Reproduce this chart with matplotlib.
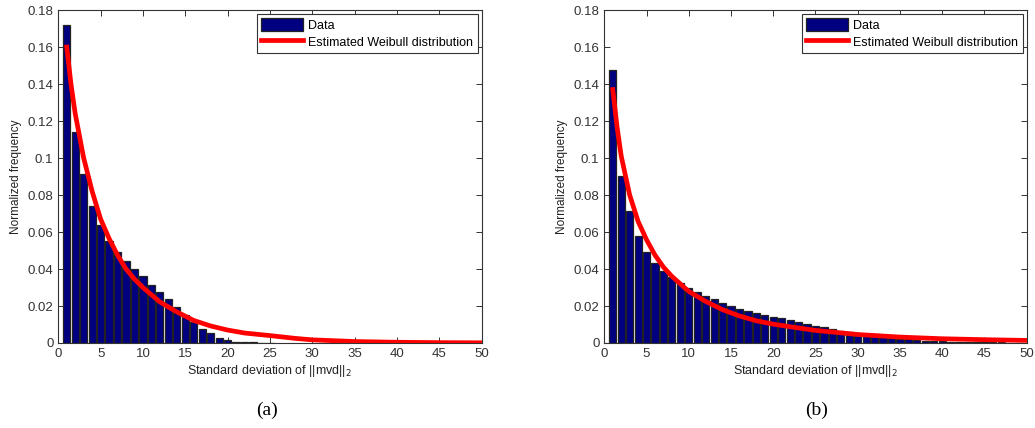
import matplotlib
matplotlib.use("Agg")
import matplotlib.pyplot as plt

plt.rcParams["font.family"] = ["Liberation Sans", "DejaVu Sans"]

# ---------------------------------------------------------------------------
# Data
# ---------------------------------------------------------------------------
bins_a = list(range(1, 26))
freq_a = [0.1719, 0.1143, 0.0913, 0.0743, 0.0637, 0.0549, 0.0490, 0.0441,
          0.0401, 0.0360, 0.0315, 0.0277, 0.0236, 0.0196, 0.0153, 0.0112,
          0.0077, 0.0052, 0.0029, 0.0014, 0.0006, 0.0004, 0.0003, 0.0002,
          0.0001]

fit_x_a = [1, 1.5, 2, 3, 4, 5, 6, 7, 8, 9, 10, 12, 14, 16, 18, 20, 22, 25,
           28, 30, 35, 40, 45, 50]
fit_y_a = [0.160, 0.140, 0.124, 0.100, 0.082, 0.067, 0.0565, 0.0475, 0.040,
           0.0345, 0.0300, 0.0222, 0.0168, 0.0122, 0.0092, 0.0070, 0.0054,
           0.0040, 0.0025, 0.0017, 0.0008, 0.0004, 0.0002, 0.0001]

bins_b = list(range(1, 50))
freq_b = [0.1476, 0.0905, 0.0716, 0.0580, 0.0491, 0.0432, 0.0389, 0.0355,
          0.0322, 0.0295, 0.0274, 0.0254, 0.0236, 0.0216, 0.0200, 0.0185,
          0.0175, 0.0160, 0.0149, 0.0138, 0.0133, 0.0122, 0.0112, 0.0101,
          0.0090, 0.0085, 0.0074, 0.0065, 0.0058, 0.0047, 0.0041, 0.0036,
          0.0032, 0.0027, 0.0023, 0.0020, 0.0016, 0.0013, 0.0011, 0.0009,
          0.0008, 0.0007, 0.0007, 0.0006, 0.0005, 0.0004, 0.0003, 0.0002,
          0.0002]

fit_x_b = [1, 1.5, 2, 3, 4, 5, 6, 7, 8, 10, 12, 14, 16, 18, 20, 22, 25, 30,
           35, 40, 45, 50]
fit_y_b = [0.137, 0.117, 0.101, 0.080, 0.0657, 0.0558, 0.0475, 0.041, 0.036,
           0.0279, 0.0225, 0.0180, 0.0146, 0.0120, 0.0102, 0.0088, 0.0068,
           0.0046, 0.0032, 0.0023, 0.0018, 0.0014]

panel_labels = ["(a)", "(b)"]
yticks = [0, 0.02, 0.04, 0.06, 0.08, 0.1, 0.12, 0.14, 0.16, 0.18]
ytick_labels = ["0", "0.02", "0.04", "0.06", "0.08", "0.1", "0.12", "0.14",
                "0.16", "0.18"]
xticks = list(range(0, 51, 5))


def draw_panel(ax, bins, freq, fit_x, fit_y):
    bars = ax.bar(bins, freq, width=0.85, color="#000080",
                  edgecolor="#222222", linewidth=0.9, zorder=2)
    line, = ax.plot(fit_x, fit_y, color="red", linewidth=3.4, zorder=3)
    ax.set_xlim(0, 50)
    ax.set_ylim(0, 0.18)
    ax.set_xticks(xticks)
    ax.set_yticks(yticks)
    ax.set_yticklabels(ytick_labels)
    ax.tick_params(direction="in", top=True, right=True, labelsize=9.5,
                   colors="#333333", length=4, width=0.7)
    for sp in ax.spines.values():
        sp.set_color("#333333")
        sp.set_linewidth(0.8)
    ax.set_xlabel(r"Standard deviation of ||mvd||$_2$", fontsize=9,
                  labelpad=2, color="#222222")
    ax.set_ylabel("Normalized frequency", fontsize=8.5, labelpad=4,
                  color="#222222")
    leg = ax.legend([bars, line], ["Data", "Estimated Weibull distribution"],
                    loc="upper right", fontsize=9, fancybox=False,
                    framealpha=1, borderaxespad=0.3, handlelength=3.4,
                    handleheight=1.2, handletextpad=0.4, borderpad=0.35,
                    labelspacing=0.25)
    leg.get_frame().set_edgecolor("#333333")
    leg.get_frame().set_linewidth(0.8)


fig = plt.figure(figsize=(10.35, 4.28), dpi=100)
ax_a = fig.add_axes([0.0563, 0.1986, 0.409, 0.778])
ax_b = fig.add_axes([0.5839, 0.1986, 0.408, 0.778])

draw_panel(ax_a, bins_a, freq_a, fit_x_a, fit_y_a)
draw_panel(ax_b, bins_b, freq_b, fit_x_b, fit_y_b)

fig.text(0.258, 0.042, panel_labels[0], ha="center", va="center",
         fontsize=14, family="Liberation Serif")
fig.text(0.789, 0.042, panel_labels[1], ha="center", va="center",
         fontsize=14, family="Liberation Serif")

fig.savefig("out.png", dpi=100)
